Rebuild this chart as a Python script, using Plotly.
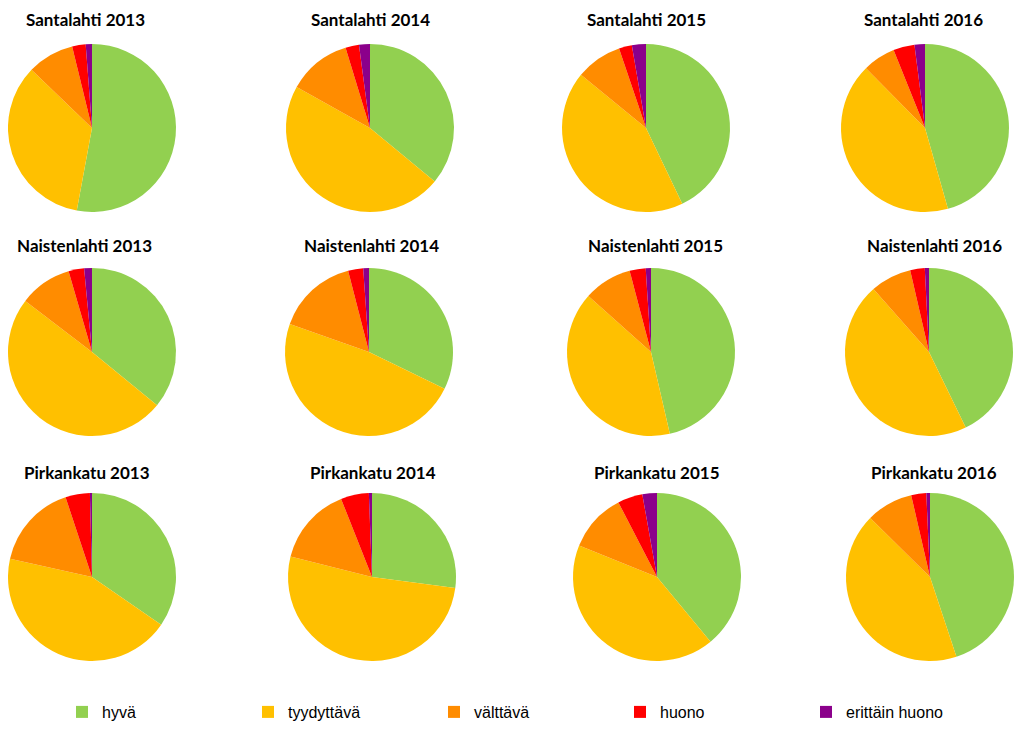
import plotly.graph_objects as go

categories = ["hyvä", "tyydyttävä", "välttävä", "huono", "erittäin huono"]
colors = ["#92D050", "#FFC000", "#FF8C00", "#FF0000", "#8B008B"]

titles = [
    "Santalahti 2013", "Santalahti 2014", "Santalahti 2015", "Santalahti 2016",
    "Naistenlahti 2013", "Naistenlahti 2014", "Naistenlahti 2015", "Naistenlahti 2016",
    "Pirkankatu 2013", "Pirkankatu 2014", "Pirkankatu 2015", "Pirkankatu 2016",
]

santalahti_2013 = [52.9, 34.3, 9.0, 2.6, 1.2]
santalahti_2014 = [36.0, 47.1, 12.2, 2.6, 2.1]
santalahti_2015 = [42.9, 43.0, 8.9, 2.5, 2.7]
santalahti_2016 = [45.6, 42.0, 6.3, 4.1, 2.0]
naistenlahti_2013 = [35.9, 49.5, 10.1, 3.0, 1.5]
naistenlahti_2014 = [32.2, 48.2, 15.6, 2.9, 1.1]
naistenlahti_2015 = [46.4, 40.2, 9.3, 3.1, 1.0]
naistenlahti_2016 = [42.8, 45.7, 7.9, 2.8, 0.8]
pirkankatu_2013 = [34.6, 43.9, 16.4, 4.7, 0.4]
pirkankatu_2014 = [27.1, 51.8, 15.1, 5.4, 0.6]
pirkankatu_2015 = [39.0, 42.1, 11.3, 4.8, 2.8]
pirkankatu_2016 = [44.9, 42.5, 9.0, 2.9, 0.7]

series = [
    santalahti_2013, santalahti_2014, santalahti_2015, santalahti_2016,
    naistenlahti_2013, naistenlahti_2014, naistenlahti_2015, naistenlahti_2016,
    pirkankatu_2013, pirkankatu_2014, pirkankatu_2015, pirkankatu_2016,
]

# layout (pixel positions in the screenshot of pie centres and title centres)
W, H = 1024, 746
OFF = 8  # page body margin offset
R = 84
centers = [
    (92, 128), (370, 128), (646, 128), (925, 128),
    (92, 352), (369, 352), (651, 352), (929, 352),
    (92, 577), (372, 577), (657, 577), (930, 577),
]
title_pos = [
    (85, 19), (370, 19), (646, 19), (923, 19),
    (84, 245), (371, 245), (655, 245), (934, 245),
    (87, 472), (373, 472), (657, 472), (934, 472),
]


def px(x):
    return (x - OFF) / W


def py(y):
    return 1 - (y - OFF) / H


fig = go.Figure()
for i, vals in enumerate(series):
    cx, cy = centers[i]
    fig.add_trace(go.Pie(
        labels=categories,
        values=vals,
        name=titles[i],
        sort=False,
        direction="clockwise",
        rotation=0,
        textinfo="none",
        hoverinfo="label+percent",
        marker=dict(colors=colors, line=dict(width=0)),
        domain=dict(x=[px(cx - R), px(cx + R)],
                    y=[py(cy + R), py(cy - R)]),
        showlegend=(i == 0),
    ))

annotations = []
for i, t in enumerate(titles):
    tx, ty = title_pos[i]
    annotations.append(dict(
        text="<b>" + t + "</b>", x=px(tx), y=py(ty),
        xref="paper", yref="paper", xanchor="center", yanchor="middle",
        showarrow=False, font=dict(family="Lato, Arial, sans-serif", size=17, color="#000000"),
    ))

fig.update_layout(
    width=W, height=H,
    margin=dict(l=0, r=0, t=0, b=0),
    paper_bgcolor="white",
    plot_bgcolor="white",
    annotations=annotations,
    legend=dict(
        orientation="h",
        x=px(62), y=py(712),
        xanchor="left", yanchor="middle",
        entrywidth=141, entrywidthmode="pixels",
        font=dict(family="Liberation Sans, Arial, sans-serif", size=16, color="#000000"),
        itemsizing="constant",
        bgcolor="rgba(0,0,0,0)",
    ),
)

fig.write_html("out.html")
